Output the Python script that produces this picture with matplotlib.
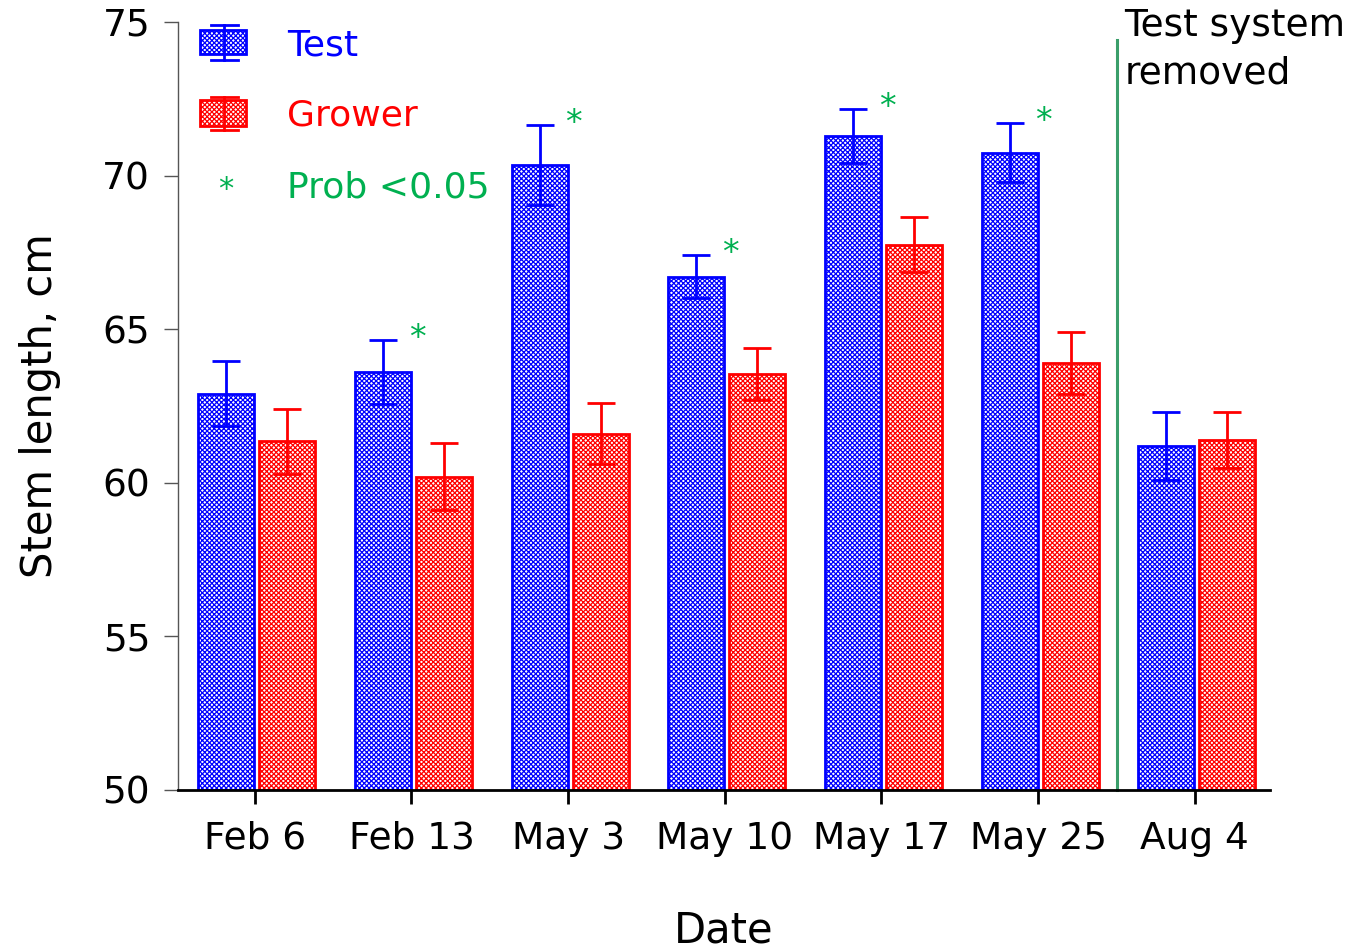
import numpy as np
import matplotlib.pyplot as plt
from matplotlib.patches import Rectangle

plt.rcParams['font.family'] = ['DejaVu Sans']
plt.rcParams['hatch.linewidth'] = 0.9

# datos
fechas = ['Feb 6', 'Feb 13', 'May 3', 'May 10', 'May 17', 'May 25', 'Aug 4']
test = [62.9, 63.6, 70.35, 66.7, 71.3, 70.75, 61.2]
test_err = [1.05, 1.05, 1.3, 0.7, 0.88, 0.97, 1.1]
grower = [61.35, 60.2, 61.6, 63.55, 67.75, 63.9, 61.4]
grower_err = [1.05, 1.1, 1.0, 0.85, 0.9, 1.0, 0.92]
signif = [False, True, True, True, True, True, False]

azul = '#0000ff'
rojo = '#ff0000'
verde = '#00b050'
patron = 'xxxxxxx'

fig = plt.figure(figsize=(13.54, 9.49), dpi=100)
ax = fig.add_axes([178/1354, 1 - 790/949, 1092/1354, 768/949])

x = np.arange(len(fechas))
w = 0.357
ax.bar(x - 0.182, [t - 50 for t in test], w, bottom=50, color='white',
       edgecolor=azul, hatch=patron, linewidth=2.0)
ax.bar(x + 0.208, [g - 50 for g in grower], w, bottom=50, color='white',
       edgecolor=rojo, hatch=patron, linewidth=2.0)
ax.errorbar(x - 0.182, test, yerr=test_err, fmt='none', ecolor=azul,
            elinewidth=2.0, capsize=10, capthick=2.0)
ax.errorbar(x + 0.208, grower, yerr=grower_err, fmt='none', ecolor=rojo,
            elinewidth=2.0, capsize=10, capthick=2.0)

# asteriscos
for i in range(len(fechas)):
    if signif[i]:
        ax.text(x[i] + 0.035, test[i] + test_err[i] + 0.05, '*', color=verde,
                fontsize=24, ha='center', va='center')

# linea vertical
ax.plot([5.505, 5.505], [50, 74.4], color='#3a9e6a', linewidth=2.2, clip_on=False)
ax.text(5.55, 75.45, 'Test system\nremoved', fontsize=27, va='top', ha='left',
        linespacing=1.4)

ax.set_xlim(-0.49, 6.48)
ax.set_ylim(50, 75)
ax.set_xticks(x)
ax.set_xticklabels(fechas)
ax.set_yticks([50, 55, 60, 65, 70, 75])
ax.tick_params(labelsize=27, direction='out')
ax.tick_params(axis='x', pad=12, width=2.0, length=10)
ax.tick_params(axis='y', pad=10, width=1.0, length=10, color='#555555')
ax.spines['top'].set_visible(False)
ax.spines['right'].set_visible(False)
ax.spines['left'].set_linewidth(1.0)
ax.spines['left'].set_color('#555555')
ax.spines['bottom'].set_linewidth(2.0)
ax.set_ylabel('Stem length, cm', fontsize=30, labelpad=30)
ax.set_xlabel('Date', fontsize=30, labelpad=38)

# leyenda
t = ax.transAxes
def fx(px):
    return (px - 178) / 1092
def fy(py):
    return (790 - py) / 768

for y0, y1, c1, c2, col, lab in [(54, 30, 60, 25, azul, 'Test'),
                                 (126, 100, 130, 97, rojo, 'Grower')]:
    ax.add_patch(Rectangle((fx(200), fy(y0)), fx(246) - fx(200), fy(y1) - fy(y0),
                           transform=t, facecolor='white', edgecolor=col,
                           hatch=patron, linewidth=2.0, clip_on=False))
    ax.plot([fx(224), fx(224)], [fy(c1), fy(c2)], color=col, lw=2.0, transform=t, clip_on=False)
    ax.plot([fx(211), fx(238)], [fy(c1), fy(c1)], color=col, lw=2.0, transform=t, clip_on=False)
    ax.plot([fx(211), fx(238)], [fy(c2), fy(c2)], color=col, lw=2.0, transform=t, clip_on=False)
    ax.text(fx(287), fy((y0 + y1) / 2 + 3), lab, color=col, fontsize=26,
            transform=t, va='center', ha='left')
ax.text(fx(226), fy(190), '*', color=verde, fontsize=22, transform=t,
        va='center', ha='center')
ax.text(fx(287), fy(187), 'Prob <0.05', color=verde, fontsize=26,
        transform=t, va='center', ha='left')

fig.savefig('out.png', dpi=100)
